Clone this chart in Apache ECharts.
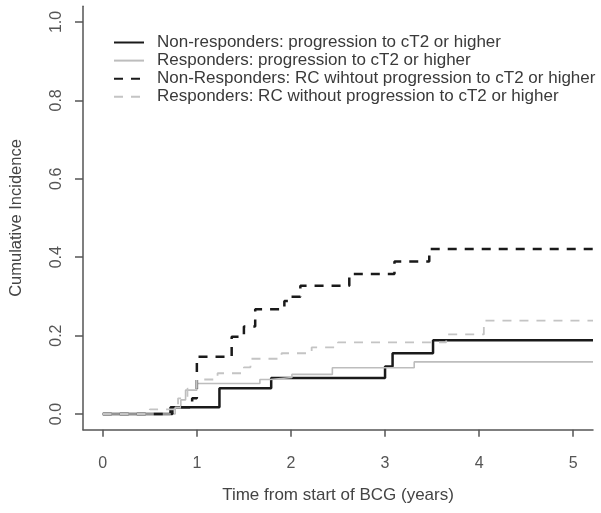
<!DOCTYPE html>
<html>
<head>
<meta charset="utf-8">
<script src="https://cdn.jsdelivr.net/npm/echarts@6/dist/echarts.min.js"></script>
<style>html,body{margin:0;padding:0;background:#fff}#c{width:601px;height:513px}</style>
</head>
<body>
<div id="c"></div>
<script>
var xTicks = [0, 1, 2, 3, 4, 5];
var yTicks = [0, 0.2, 0.4, 0.6, 0.8, 1.0];
var endTime = 5.21;

var seriesNames = [
  'Non-responders: progression to cT2 or higher',
  'Responders: progression to cT2 or higher',
  'Non-Responders: RC wihtout progression to cT2 or higher',
  'Responders: RC without progression to cT2 or higher'
];

var nrProgTimes = [0, 0.72, 1.24, 1.79, 3.0, 3.08, 3.51];
var nrProgValues = [0, 0.017, 0.066, 0.092, 0.121, 0.155, 0.188];

var rProgTimes = [0, 0.77, 0.83, 0.88, 1.0, 1.67, 1.78, 2.01, 2.44, 3.31];
var rProgValues = [0, 0.017, 0.036, 0.061, 0.078, 0.088, 0.093, 0.101, 0.118, 0.133];

var nrRcTimes = [0, 0.74, 0.95, 1.0, 1.37, 1.5, 1.62, 1.93, 2.0, 2.1, 2.62, 3.1, 3.47];
var nrRcValues = [0, 0.017, 0.04, 0.146, 0.197, 0.223, 0.267, 0.288, 0.299, 0.327, 0.357, 0.389, 0.421];

var rRcTimes = [0, 0.5, 0.8, 0.9, 1.0, 1.22, 1.5, 1.57, 1.9, 2.22, 2.5, 3.65, 4.05];
var rRcValues = [0, 0.012, 0.04, 0.065, 0.088, 0.104, 0.119, 0.141, 0.155, 0.170, 0.183, 0.203, 0.238];

function pts(t, v) {
  var out = t.map(function (x, i) { return [x, v[i]]; });
  out.push([endTime, v[v.length - 1]]);
  return out;
}

var chart = echarts.init(document.getElementById('c'), null, {renderer: 'canvas'});
var FONT = '"Liberation Sans", Arial, sans-serif';

function mk(name, t, v, color, width, dash, z) {
  return {
    name: name, type: 'line', step: 'end', data: pts(t, v),
    symbol: 'none', showSymbol: false, animation: false, z: z,
    lineStyle: {color: color, width: width, type: dash || 'solid', cap: 'butt'},
    itemStyle: {color: color}
  };
}

chart.setOption({
  animation: false,
  backgroundColor: '#fff',
  grid: {left: 80, top: 6.3, width: 513, height: 423.4, containLabel: false},
  legend: {
    orient: 'vertical', left: 108, top: 29,
    itemWidth: 30, itemHeight: 14, itemGap: 1.1,
    itemStyle: {opacity: 0, borderWidth: 0},
    textStyle: {fontFamily: FONT, fontSize: 17, lineHeight: 14, color: '#3a3a3a', padding: [0, 0, 0, 8]},
    data: seriesNames
  },
  xAxis: {
    type: 'value', min: -0.21, max: endTime,
    name: 'Time from start of BCG (years)', nameLocation: 'middle', nameGap: 57,
    nameTextStyle: {fontFamily: FONT, fontSize: 17, color: '#444'},
    axisLine: {show: true, onZero: false, lineStyle: {color: '#555', width: 1.5}},
    axisTick: {show: true, length: 7, inside: false, customValues: xTicks, lineStyle: {color: '#555', width: 1.5}},
    axisLabel: {customValues: xTicks, margin: 26, fontFamily: FONT, fontSize: 16, color: '#555'},
    splitLine: {show: false}
  },
  yAxis: {
    type: 'value', min: -0.04, max: 1.04,
    name: 'Cumulative Incidence', nameLocation: 'middle', nameGap: 58,
    nameTextStyle: {fontFamily: FONT, fontSize: 16.5, color: '#444'},
    axisLine: {show: true, onZero: false, lineStyle: {color: '#555', width: 1.5}},
    axisTick: {show: true, length: 8, customValues: yTicks, lineStyle: {color: '#555', width: 1.5}},
    axisLabel: {customValues: yTicks, rotate: 90, margin: 18, fontFamily: FONT, fontSize: 16, color: '#555',
      formatter: function (v) { return v.toFixed(1); }},
    splitLine: {show: false}
  },
  series: [
    mk(seriesNames[0], nrProgTimes, nrProgValues, '#1a1a1a', 2.5, null, 2),
    mk(seriesNames[1], rProgTimes, rProgValues, '#bdbdbd', 1.6, null, 3),
    mk(seriesNames[2], nrRcTimes, nrRcValues, '#1a1a1a', 2.5, [9, 8], 4),
    mk(seriesNames[3], rRcTimes, rRcValues, '#c4c4c4', 1.8, [9, 8], 5)
  ]
});
</script>
</body>
</html>
